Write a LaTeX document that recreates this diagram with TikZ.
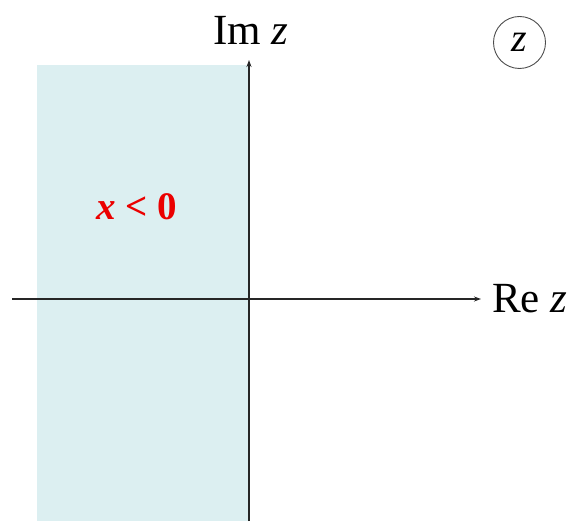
\documentclass[tikz,border=0pt]{standalone}
\usepackage{fontspec}
\setmainfont{Liberation Serif}
\usetikzlibrary{arrows.meta}
\definecolor{regioncol}{RGB}{220,239,241}
\definecolor{redlab}{RGB}{235,0,0}
\tikzset{
  axis/.style={line width=1.1pt, draw=black!85, -{Stealth[length=7pt,width=5pt]}},
  biglab/.style={font=\fontsize{43}{50}\selectfont, inner sep=0pt},
}
\begin{document}
\begin{tikzpicture}[x=1pt,y=1pt]
\useasboundingbox (0,0) rectangle (569,521);
\fill[fill=regioncol] (37,0) rectangle (249,456);
\coordinate (vbot) at (249,0);
\coordinate (vtop) at (249,461);
\coordinate (hleft) at (12,222);
\coordinate (hright) at (481,222);
\draw[axis] (vbot) -- (vtop);
\draw[axis] (hleft) -- (hright);
\node[biglab, anchor=west] (re) at (492,222) {Re \textit{z}};
\node[biglab, anchor=base] (im) at (251,476) {Im \textit{z}};
\node[circle, draw=black!70, line width=0.9pt, minimum size=52pt, inner sep=0pt,
      font=\fontsize{40}{48}\selectfont] (zc) at (519.5,478.5) {\textit{z}};
\node[font=\fontsize{39}{46}\selectfont\bfseries, text=redlab] (cond) at (137,314) {\textit{x} < 0};
\end{tikzpicture}
\end{document}
